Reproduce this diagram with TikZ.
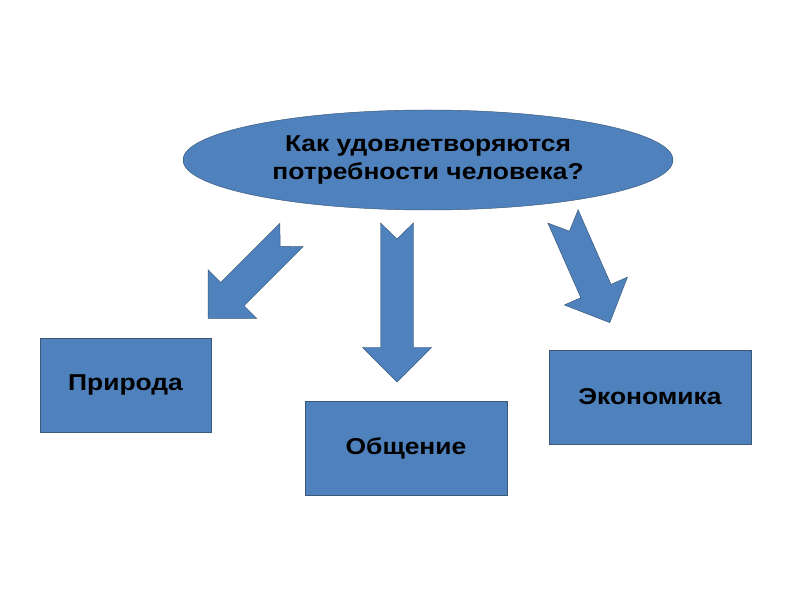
\documentclass[tikz,border=0pt]{standalone}
\usepackage{fontspec}
\setmainfont[FakeStretch=1.15]{Liberation Sans}
\usepackage{xcolor}
\usepackage{tikz}
\usetikzlibrary{shapes.geometric, calc}
\definecolor{slideblue}{HTML}{4F81BD}
\definecolor{slideline}{HTML}{3B5878}
\tikzstyle{question} = [ellipse, minimum width=14.7cm, minimum height=3cm, inner sep=0pt, align=center, draw=slideline, fill=slideblue, font=\bfseries\fontsize{19.6}{24.7}\selectfont]
\tikzstyle{need} = [rectangle, minimum height=2.82cm, text centered, draw=slideline, fill=slideblue, font=\bfseries\fontsize{19.6}{24}\selectfont]
\tikzstyle{blockarrow} = [draw=slideline, fill=slideblue, line join=miter]
% notched block arrow: tail coordinate, angle, length
\newcommand{\notcharrow}[3]{%
  \filldraw[blockarrow, shift={(#1)}, rotate=#2] (0,16.5) -- (16,0) -- (0,-16.5) -- (#3-34.5,-16.5) -- (#3-34.5,-34.5) -- (#3,0) -- (#3-34.5,34.5) -- (#3-34.5,16.5) -- cycle;}

\begin{document}
\begin{tikzpicture}[x=0.03cm, y=-0.03cm]
    \useasboundingbox (0,0) rectangle (800,600);
    \node (ask) [question] at (428,160) {Как удовлетворяются\\потребности человека?};

    \node (nature) [need, minimum width=5.13cm] at (125.5,385) {Природа};
    \node (talk) [need, minimum width=6.06cm] at (406,448) {Общение};
    \node (economy) [need, minimum width=6.06cm] at (650,397) {Экономика};

    \coordinate (natureTail) at (291.5,235);
    \coordinate (talkTail) at (397,223);
    \coordinate (economyTail) at (563,216.5);

    \notcharrow{natureTail}{-135}{118}
    \notcharrow{talkTail}{-90}{159}
    \notcharrow{economyTail}{-66.2}{116}
\end{tikzpicture}
\end{document}
